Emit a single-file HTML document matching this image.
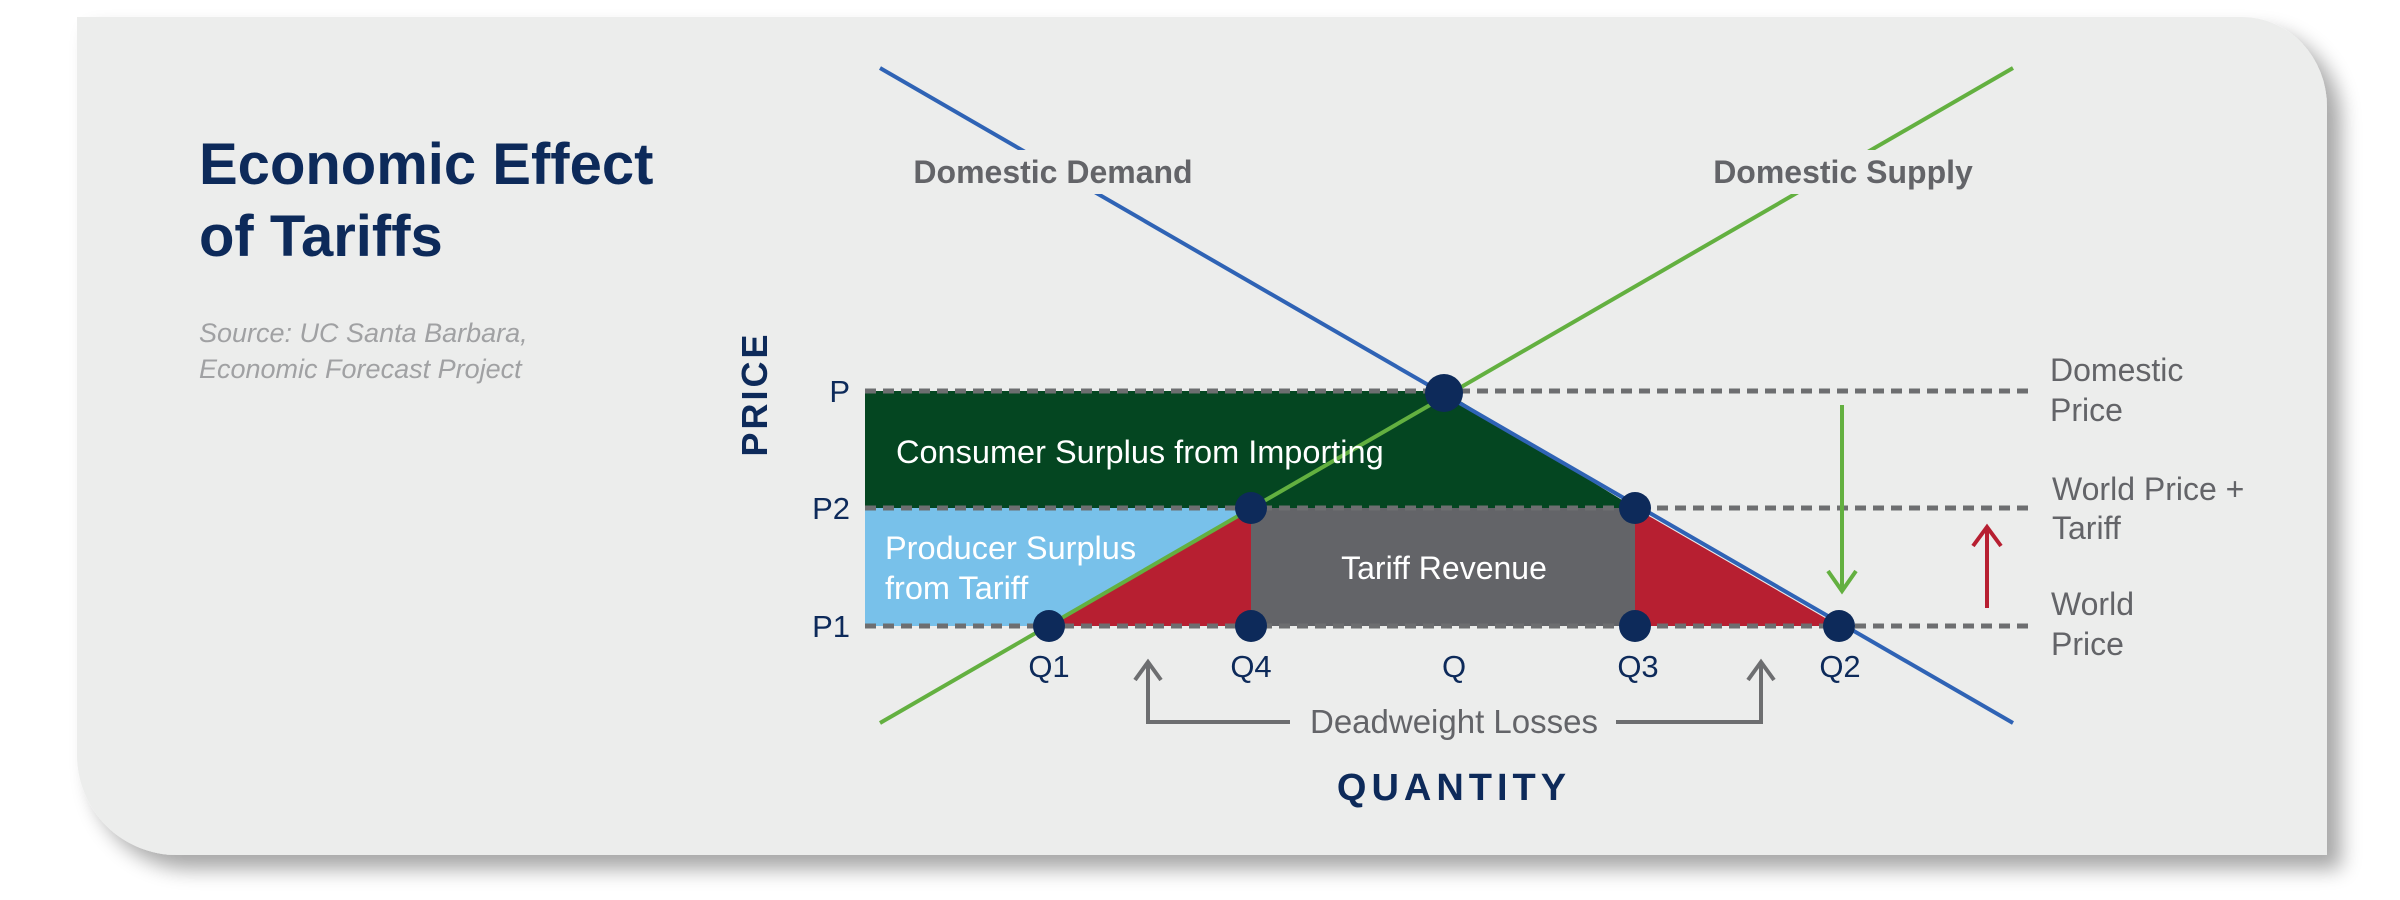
<!DOCTYPE html>
<html><head><meta charset="utf-8"><style>
html,body{margin:0;padding:0;background:#fff;width:2400px;height:900px;overflow:hidden}
svg{display:block}
text{font-family:"Liberation Sans",sans-serif}
</style></head><body>
<svg width="2400" height="900" viewBox="0 0 2400 900" xmlns="http://www.w3.org/2000/svg">
<defs>
<filter id="sh" x="-5%" y="-5%" width="115%" height="120%">
<feGaussianBlur in="SourceAlpha" stdDeviation="10"/>
<feOffset dx="14" dy="14"/>
<feComponentTransfer><feFuncA type="linear" slope="0.35"/></feComponentTransfer>
<feMerge><feMergeNode/><feMergeNode in="SourceGraphic"/></feMerge>
</filter>
</defs>
<path d="M77 17 H2242 A85 90 0 0 1 2327 107 V855 H177 A100 100 0 0 1 77 755 Z" fill="#ecedec" filter="url(#sh)"/>

<text x="199" y="184" font-size="58" font-weight="bold" fill="#0d2a5a">Economic Effect</text>
<text x="199" y="256" font-size="58" font-weight="bold" fill="#0d2a5a">of Tariffs</text>
<text x="199" y="342" font-size="27" font-style="italic" fill="#a0a1a3">Source: UC Santa Barbara,</text>
<text x="199" y="378" font-size="27" font-style="italic" fill="#a0a1a3">Economic Forecast Project</text>

<text transform="translate(767,394) rotate(-90)" text-anchor="middle" font-size="36" font-weight="bold" fill="#0d2a5a" letter-spacing="3">PRICE</text>
<text x="1454" y="800" text-anchor="middle" font-size="38" font-weight="bold" fill="#0d2a5a" letter-spacing="5">QUANTITY</text>

<polygon points="865,391 1444,391 1635,508 865,508" fill="#044621"/>
<polygon points="865,508 1251,508 1049,626 865,626" fill="#78c1ea"/>
<polygon points="1049,626 1251,508 1251,626" fill="#b71f31"/>
<rect x="1251" y="508" width="384" height="118" fill="#636468"/>
<polygon points="1635,508 1839,626 1635,626" fill="#b71f31"/>

<g stroke="#6d6e70" stroke-width="5" stroke-dasharray="11,7">
<line x1="865" y1="391" x2="2028" y2="391"/>
<line x1="865" y1="508" x2="2028" y2="508"/>
<line x1="865" y1="626" x2="2028" y2="626"/>
</g>

<line x1="880" y1="68" x2="2013" y2="723" stroke="#2f63b5" stroke-width="4"/>
<line x1="880" y1="723" x2="2013" y2="68" stroke="#63b040" stroke-width="4"/>

<rect x="902" y="150" width="302" height="44" fill="#ecedec"/>
<rect x="1700" y="150" width="288" height="44" fill="#ecedec"/>
<text x="1053" y="183" text-anchor="middle" font-size="32" font-weight="bold" fill="#636468">Domestic Demand</text>
<text x="1843" y="183" text-anchor="middle" font-size="32" font-weight="bold" fill="#636468">Domestic Supply</text>

<g fill="#0d2a5a">
<circle cx="1444" cy="393" r="19"/>
<circle cx="1251" cy="508" r="16"/>
<circle cx="1635" cy="508" r="16"/>
<circle cx="1049" cy="626" r="16"/>
<circle cx="1251" cy="626" r="16"/>
<circle cx="1635" cy="626" r="16"/>
<circle cx="1839" cy="626" r="16"/>
</g>

<text x="896" y="463" font-size="32.5" fill="#fff">Consumer Surplus from Importing</text>
<text x="885" y="559" font-size="32.5" fill="#fff">Producer Surplus</text>
<text x="885" y="599" font-size="32.5" fill="#fff">from Tariff</text>
<text x="1444" y="579" text-anchor="middle" font-size="32" fill="#fff">Tariff Revenue</text>

<g font-size="31" fill="#0d2a5a" text-anchor="end">
<text x="850" y="402">P</text>
<text x="850" y="519">P2</text>
<text x="850" y="637">P1</text>
</g>
<g font-size="31" fill="#0d2a5a" text-anchor="middle">
<text x="1049" y="677">Q1</text>
<text x="1251" y="677">Q4</text>
<text x="1454" y="677">Q</text>
<text x="1638" y="677">Q3</text>
<text x="1840" y="677">Q2</text>
</g>

<g font-size="32" fill="#636468">
<text x="2050" y="381">Domestic</text>
<text x="2050" y="421">Price</text>
<text x="2052" y="500">World Price +</text>
<text x="2052" y="539">Tariff</text>
<text x="2051" y="615">World</text>
<text x="2051" y="655">Price</text>
</g>

<line x1="1842" y1="405" x2="1842" y2="590" stroke="#63b040" stroke-width="4"/>
<polyline points="1828,571 1842,591 1856,571" fill="none" stroke="#63b040" stroke-width="4"/>
<line x1="1987" y1="608" x2="1987" y2="527" stroke="#b71f31" stroke-width="4"/>
<polyline points="1973,546 1987,527 2001,546" fill="none" stroke="#b71f31" stroke-width="4"/>

<g fill="none" stroke="#6d6e70" stroke-width="4">
<polyline points="1148,662 1148,722 1290,722"/>
<polyline points="1135,680 1148,662 1161,680"/>
<polyline points="1616,722 1761,722 1761,662"/>
<polyline points="1748,680 1761,662 1774,680"/>
</g>
<text x="1454" y="733" text-anchor="middle" font-size="33" fill="#636468">Deadweight Losses</text>
</svg>
</body></html>
